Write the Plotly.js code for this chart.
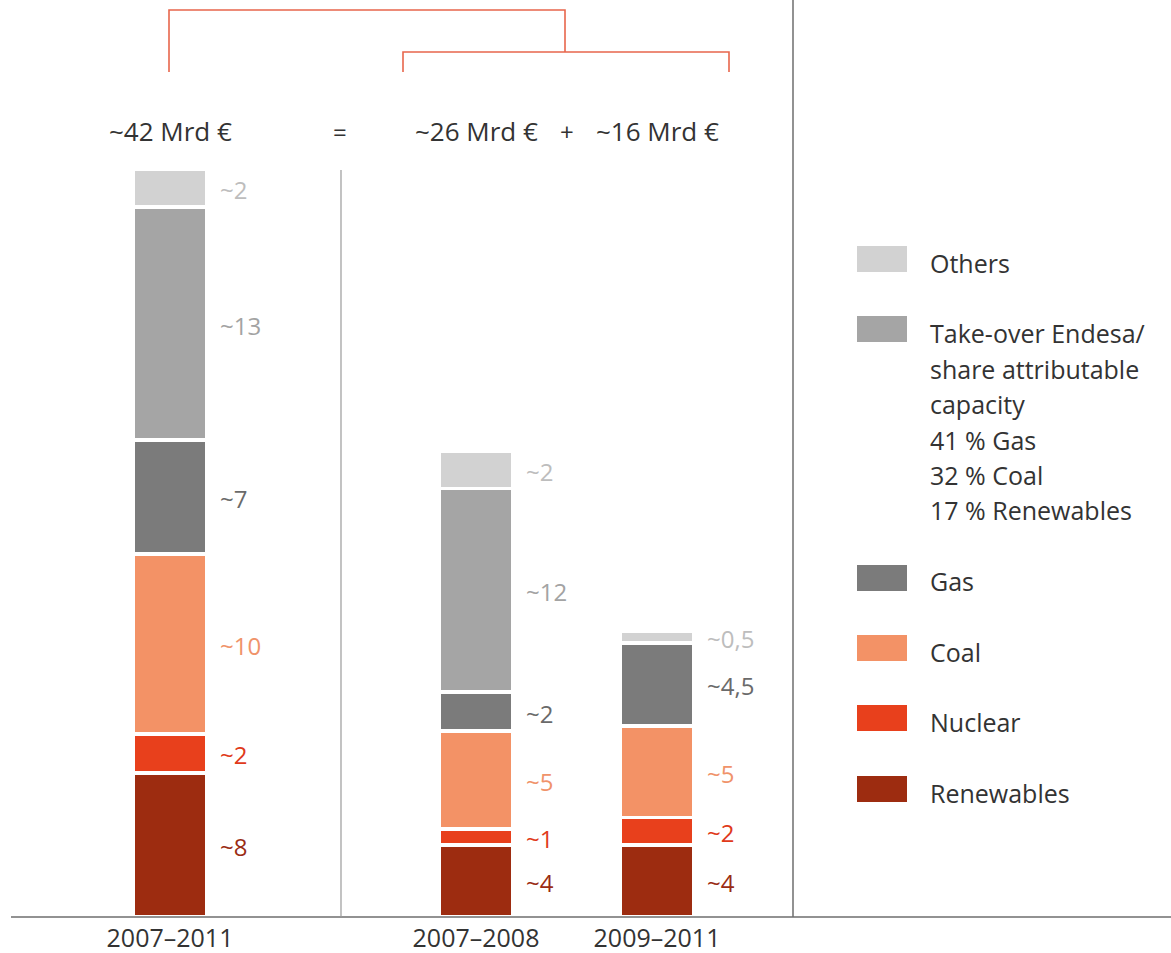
<!DOCTYPE html>
<html>
<head>
<meta charset="utf-8">
<script src="https://cdn.plot.ly/plotly-3.0.1.min.js"></script>
<style>
html,body{margin:0;padding:0;background:#fff;}
#chart{width:1171px;height:953px;}
</style>
</head>
<body>
<div id="chart"></div>
<script>
// ---- data (Mrd €) ----
const periods = ['2007–2011', '2007–2008', '2009–2011'];
const renewables = [8.1, 4.05, 4.05];
const nuclear = [2.2, 0.9, 1.55];
const coal = [10.1, 5.5, 5.15];
const gas = [6.4, 2.2, 4.65];
const takeover = [13.1, 11.45, 0];
const others = [2.15, 2.1, 0.65];

const lblRenewables = ['~8', '~4', '~4'];
const lblNuclear = ['~2', '~1', '~2'];
const lblCoal = ['~10', '~5', '~5'];
const lblGas = ['~7', '~2', '~4,5'];
const lblTakeover = ['~13', '~12', ''];
const lblOthers = ['~2', '~2', '~0,5'];

const totals = ['~42 Mrd €', '~26 Mrd €', '~16 Mrd €'];

const legendNames = ['Others', 'Take-over Endesa/', 'Gas', 'Coal', 'Nuclear', 'Renewables'];
const takeoverDetail = ['share attributable', 'capacity', '41 % Gas', '32 % Coal', '17 % Renewables'];

// ---- layout constants ----
const W = 1171, H = 953;
const baseY = 917;           // pixel of baseline
const pxPerUnit = 17.79;
const xPos = [170, 476, 657]; // bar centres (x axis in pixel units)
const barW = 74;
const FONT = 'Open Sans, Noto Sans, sans-serif';
const TXT = '#333333';
const labelShift = 5 / pxPerUnit; // small downward nudge of value labels

const series = [
  {name: 'Renewables', v: renewables, l: lblRenewables, c: '#9d2c10', tc: '#9a2c14'},
  {name: 'Nuclear', v: nuclear, l: lblNuclear, c: '#e8401c', tc: '#e03a1a'},
  {name: 'Coal', v: coal, l: lblCoal, c: '#f39266', tc: '#f0936a'},
  {name: 'Gas', v: gas, l: lblGas, c: '#7b7b7b', tc: '#6a6a6a'},
  {name: 'Take-over Endesa', v: takeover, l: lblTakeover, c: '#a5a5a5', tc: '#a3a3a3'},
  {name: 'Others', v: others, l: lblOthers, c: '#d2d2d2', tc: '#bdbdbd'}
];

const traces = [];
const cum = [0, 0, 0];
series.forEach(s => {
  traces.push({
    type: 'bar', x: xPos, y: s.v, width: barW, name: s.name,
    marker: {color: s.c, line: {color: '#ffffff', width: 3.5}},
    showlegend: false, hoverinfo: 'skip'
  });
  const mids = s.v.map((v, i) => cum[i] + v / 2 - labelShift);
  s.v.forEach((v, i) => cum[i] += v);
  traces.push({
    type: 'scatter', mode: 'text', x: xPos.map(x => x + barW / 2 + 13), y: mids,
    text: s.l, textposition: 'middle right',
    textfont: {family: FONT, size: 24, color: s.tc},
    showlegend: false, hoverinfo: 'skip', cliponaxis: false
  });
});

function py(p) { return (baseY - p) / baseY; } // pixel -> paper y

const bracket = {color: '#e8664c', width: 1.6};
function pathPx(pts) {
  return pts.map((p, i) => (i ? 'L' : 'M') + p[0] + ',' + py(p[1])).join(' ');
}
const shapes = [
  {type: 'line', xref: 'x', yref: 'paper', x0: 11, x1: W, y0: 0, y1: 0, line: {color: '#6e6e6e', width: 1.6}},
  {type: 'line', xref: 'x', yref: 'paper', x0: 341, x1: 341, y0: py(170), y1: 0, line: {color: '#9a9a9a', width: 1.2}},
  {type: 'line', xref: 'x', yref: 'paper', x0: 793, x1: 793, y0: py(0), y1: 0, line: {color: '#6e6e6e', width: 1.5}},
  {type: 'path', xref: 'x', yref: 'paper', path: pathPx([[169, 72], [169, 10], [565, 10], [565, 52]]), line: bracket},
  {type: 'path', xref: 'x', yref: 'paper', path: pathPx([[403, 72], [403, 52], [729, 52], [729, 72]]), line: bracket}
];

const annotations = [];
function ann(x, yPx, text, size, anchor) {
  annotations.push({x: x, y: py(yPx), xref: 'x', yref: 'paper', xanchor: anchor || 'center', yanchor: 'middle',
    text: text, showarrow: false, font: {family: FONT, size: size, color: TXT}});
}
// header totals
ann(xPos[0], 131, totals[0], 26);
ann(340, 131, '=', 24);
ann(xPos[1], 131, totals[1], 26);
ann(567, 131, '+', 24);
ann(xPos[2], 131, totals[2], 26);

// legend
const legColors = ['#d2d2d2', '#a5a5a5', '#7b7b7b', '#f39266', '#e8401c', '#9d2c10'];
const legSquareTop = [246, 316, 565, 635, 705, 776];
const legTextY = [263, 333, 581, 652, 722, 793];
legendNames.forEach((n, i) => {
  shapes.push({type: 'rect', xref: 'x', yref: 'paper', x0: 857, x1: 907, y0: py(legSquareTop[i]), y1: py(legSquareTop[i] + 26), fillcolor: legColors[i], line: {width: 0}});
  ann(928, legTextY[i], n, 25, 'left');
});
takeoverDetail.forEach((t, k) => ann(928, 333 + 35.5 * (k + 1), t, 25, 'left'));

const layout = {
  width: W, height: H,
  margin: {l: 0, r: 0, t: 0, b: H - baseY, pad: 0},
  paper_bgcolor: '#fff', plot_bgcolor: '#fff',
  barmode: 'stack', bargap: 0,
  showlegend: false,
  xaxis: {range: [0, W], tickvals: xPos, ticktext: periods, showgrid: false, zeroline: false, showline: false, ticks: '',
          ticklabelstandoff: 4, tickfont: {family: FONT, size: 25, color: TXT}, fixedrange: true},
  yaxis: {range: [0, baseY / pxPerUnit], visible: false, fixedrange: true},
  shapes: shapes,
  annotations: annotations,
  hovermode: false
};

Plotly.newPlot('chart', traces, layout, {staticPlot: true, displayModeBar: false});
</script>
</body>
</html>
